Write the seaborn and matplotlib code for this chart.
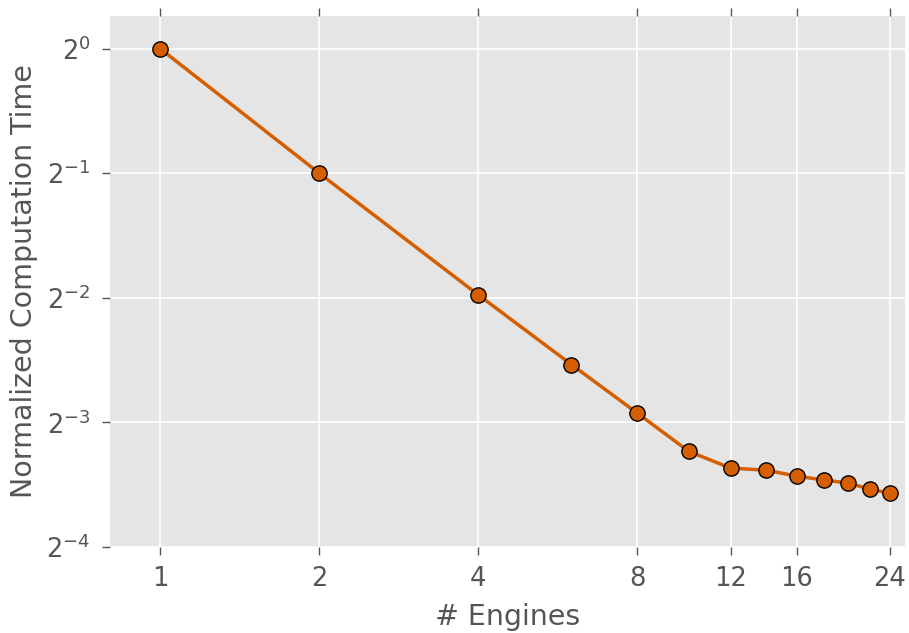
import matplotlib
matplotlib.use("Agg")
import matplotlib.pyplot as plt
from matplotlib.ticker import FixedLocator, FixedFormatter, LogFormatterMathtext, NullLocator
import pandas as pd
import seaborn as sns

engines = [1, 2, 4, 6, 8, 10, 12, 14, 16, 18, 20, 22, 24]
norm_time = [1.0, 0.5, 0.254, 0.1724, 0.1315, 0.1064, 0.0969, 0.0958,
             0.0927, 0.0907, 0.0892, 0.0862, 0.0843]
xtick_vals = [1, 2, 4, 8, 12, 16, 24]
ytick_vals = [2 ** 0, 2 ** -1, 2 ** -2, 2 ** -3, 2 ** -4]

sns.set_style('darkgrid', {
    'axes.facecolor': '#e5e5e5',
    'grid.color': 'white',
    'axes.edgecolor': '#e5e5e5',
})
plt.rcParams['font.family'] = ['DejaVu Sans']
plt.rcParams['mathtext.fontset'] = 'dejavusans'

df = pd.DataFrame({'# Engines': engines, 'Normalized Computation Time': norm_time})

fig, ax = plt.subplots(figsize=(9.09, 6.33), dpi=100)
sns.lineplot(data=df, x='# Engines', y='Normalized Computation Time', ax=ax,
             color='#d55e00', linewidth=2.5, marker='o', markersize=11,
             markeredgecolor='black', markeredgewidth=1.0)

ax.set_xscale('log', base=2)
ax.set_yscale('log', base=2)
ax.set_xlim(0.804, 25.7)
ax.set_ylim(2 ** -4, 1.2)

ax.xaxis.set_major_locator(FixedLocator(xtick_vals))
ax.xaxis.set_major_formatter(FixedFormatter([str(v) for v in xtick_vals]))
ax.xaxis.set_minor_locator(NullLocator())
ax.yaxis.set_major_locator(FixedLocator(ytick_vals))
ax.yaxis.set_major_formatter(LogFormatterMathtext(base=2))
ax.yaxis.set_minor_locator(NullLocator())

for s in ax.spines.values():
    s.set_visible(False)

ax.tick_params(axis='x', which='major', direction='out', length=6, width=1,
               color='#555555', top=True, bottom=True, labelsize=18.5,
               labelcolor='#555555', pad=8)
ax.tick_params(axis='y', which='major', direction='out', length=6, width=1,
               color='#555555', left=True, right=False, labelsize=18.5,
               labelcolor='#555555', pad=8)
ax.grid(True, color='white', linewidth=1.2)

ax.set_xlabel('# Engines', fontsize=20.5, color='#555555', labelpad=8)
ax.set_ylabel('Normalized Computation Time', fontsize=20.5, color='#555555', labelpad=6)

fig.subplots_adjust(left=0.121, right=0.996, top=0.975, bottom=0.136)
fig.savefig('out.png', dpi=100)
